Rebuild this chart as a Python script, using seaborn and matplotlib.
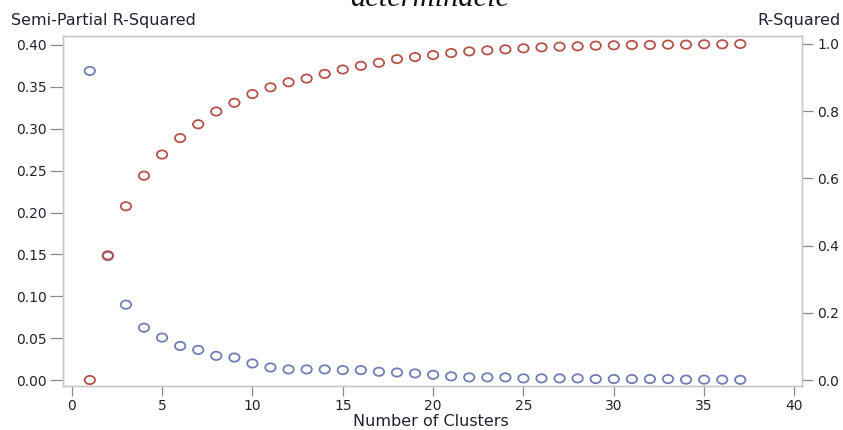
import matplotlib
matplotlib.use("Agg")
import matplotlib.pyplot as plt
import matplotlib.path as mpath
import matplotlib.transforms as mtrans
from matplotlib.markers import MarkerStyle
import seaborn as sns
import pandas as pd

clusters = list(range(1, 38))
sprsq = [0.369, 0.148, 0.090, 0.0625, 0.0507, 0.0407, 0.036, 0.0289, 0.0269, 0.0198,
         0.0150, 0.0127, 0.0127, 0.0127, 0.0119, 0.0119, 0.0099, 0.0090, 0.0079, 0.0063,
         0.0044, 0.0032, 0.0032, 0.0032, 0.0020, 0.0020, 0.0020, 0.0020, 0.0012, 0.0012,
         0.0012, 0.0012, 0.0012, 0.0005, 0.0005, 0.0005, 0.0003]
rsq = [0.0, 0.371, 0.517, 0.608, 0.671, 0.720, 0.761, 0.799, 0.825, 0.851,
       0.871, 0.886, 0.897, 0.911, 0.924, 0.935, 0.944, 0.955, 0.961, 0.967,
       0.973, 0.978, 0.981, 0.984, 0.987, 0.990, 0.992, 0.993, 0.995, 0.996,
       0.997, 0.997, 0.998, 0.998, 0.999, 0.999, 1.0]
x_ticks = [0, 5, 10, 15, 20, 25, 30, 35, 40]
left_ticks = [0.00, 0.05, 0.10, 0.15, 0.20, 0.25, 0.30, 0.35, 0.40]
right_ticks = [0.0, 0.2, 0.4, 0.6, 0.8, 1.0]

df = pd.DataFrame({"clusters": clusters, "sprsq": sprsq, "rsq": rsq})

sns.set_theme(style="white")
plt.rcParams["font.family"] = ["DejaVu Sans"]

blue = "#6F7EB3"
red = "#B5524A"
frame_c = "#C8C8C8"
tick_c = "#8A8A8A"
text_c = "#222230"
fs = 10
lfs = 11.5

# slightly wide ellipse marker (reference is horizontally stretched)
circ = mpath.Path.unit_circle()
ell = circ.transformed(mtrans.Affine2D().scale(1.25, 1.0))
ell_marker = MarkerStyle(ell)

fig = plt.figure(figsize=(8.43, 4.30), dpi=100)
ax = fig.add_axes([62.7 / 843, 1 - 386 / 430, (801.7 - 62.7) / 843, (386 - 36) / 430])
ax2 = ax.twinx()

sns.scatterplot(data=df, x="clusters", y="sprsq", ax=ax, marker=ell_marker, s=56,
                facecolor="none", edgecolor=blue, linewidth=1.3, zorder=3)
sns.scatterplot(data=df, x="clusters", y="rsq", ax=ax2, marker=ell_marker, s=56,
                facecolor="none", edgecolor=red, linewidth=1.3, zorder=3)

ax.set_xlim(-0.5, 40.4)
ax.set_ylim(-0.0071, 0.4107)
ax2.set_ylim(-0.0178, 1.0237)

ax.set_xticks(x_ticks)
ax.set_xticklabels([str(v) for v in x_ticks])
ax.set_yticks(left_ticks)
ax.set_yticklabels([f"{v:.2f}" for v in left_ticks])
ax2.set_yticks(right_ticks)
ax2.set_yticklabels([f"{v:.1f}" for v in right_ticks])

for a in (ax, ax2):
    a.set_xlabel("")
    a.set_ylabel("")
    for sp in a.spines.values():
        sp.set_color(frame_c)
        sp.set_linewidth(1.0)
    a.grid(False)

ax.tick_params(axis="x", length=7, width=0.9, color=tick_c, labelsize=fs,
               labelcolor=text_c, pad=2, direction="out", bottom=True)
ax.tick_params(axis="y", length=9.5, width=0.9, color=tick_c, labelsize=fs,
               labelcolor=text_c, pad=2, direction="out", left=True)
ax2.tick_params(axis="y", length=8, width=0.9, color=tick_c, labelsize=fs,
                labelcolor=text_c, pad=3, direction="out", right=True)

fig.text(11 / 843, 1 - 21 / 430, "Semi-Partial R-Squared", ha="left", va="center",
         fontsize=lfs, color=text_c)
fig.text(841 / 843, 1 - 21 / 430, "R-Squared", ha="right", va="center",
         fontsize=lfs, color=text_c)
fig.text(431 / 843, 1 - 426 / 430, "Number of Clusters", ha="center", va="baseline",
         fontsize=lfs, color=text_c)
fig.text(430 / 843, 1 - 6 / 430, "determinacie", ha="center", va="baseline",
         fontsize=22, style="italic", family=["Liberation Serif", "DejaVu Serif"],
         color="#111111")

fig.savefig("out.png", dpi=100)
